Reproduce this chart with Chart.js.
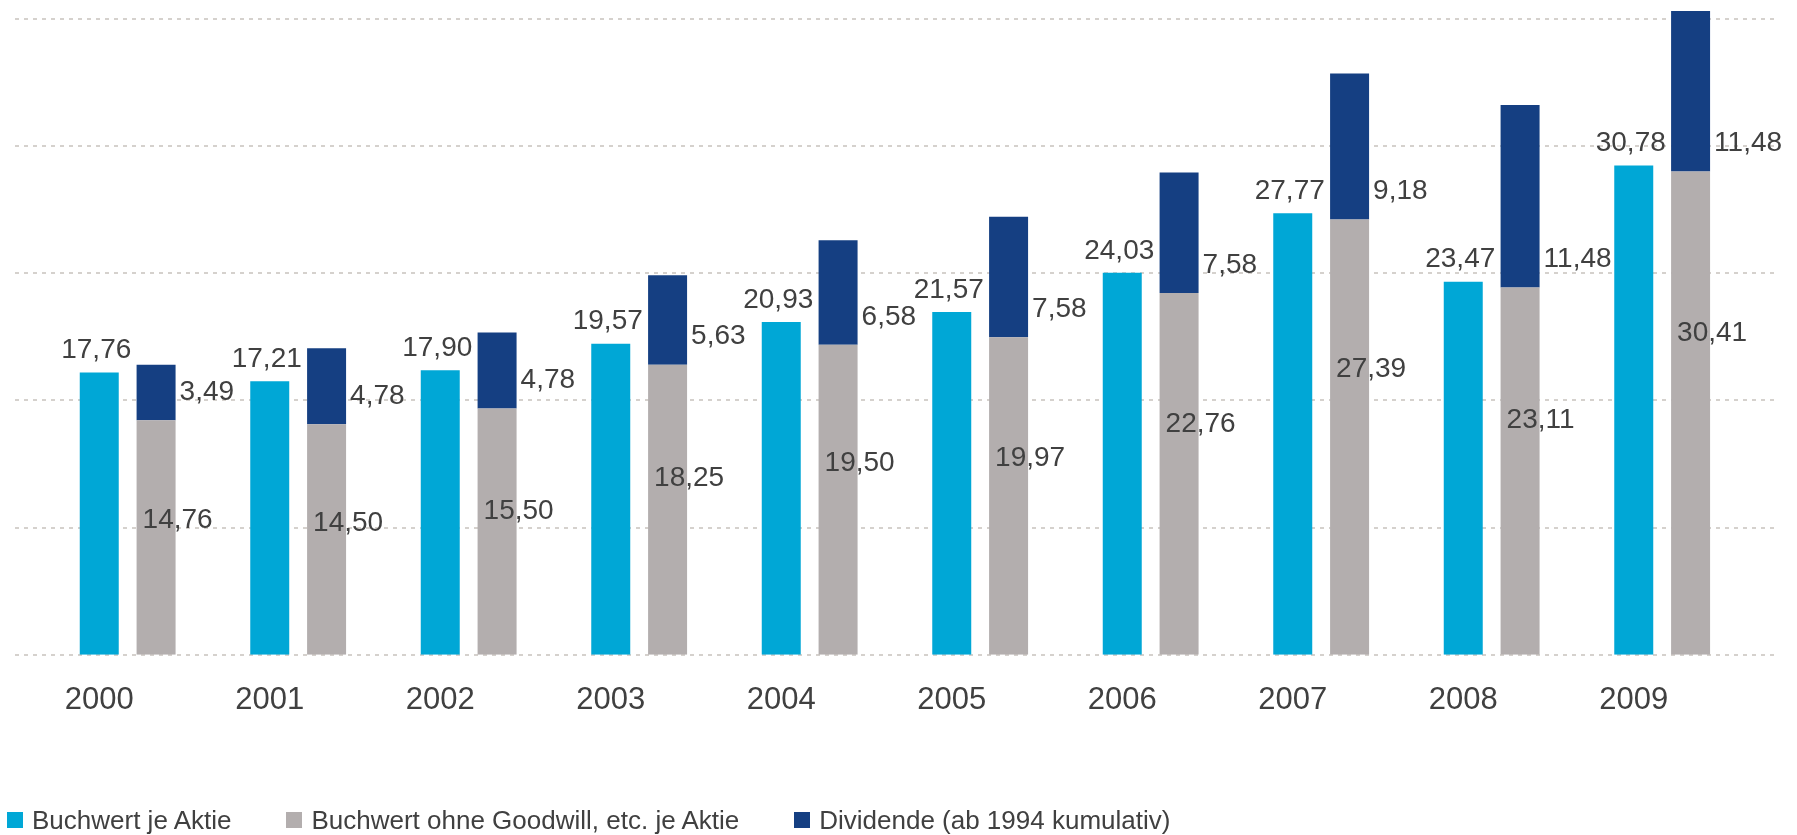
<!DOCTYPE html>
<html lang="de">
<head>
<meta charset="utf-8">
<title>Buchwert je Aktie 2000–2009</title>
<script src="https://cdn.jsdelivr.net/npm/chart.js@4.4.1/dist/chart.umd.min.js"></script>
<style>
  body { margin: 0; background: #fff; }
  #wrap { position: relative; width: 1797px; height: 835px; }
  #legende {
    position: absolute; left: 7px; top: 805px; height: 30px;
    display: flex; align-items: center;
    font-family: "Liberation Sans", Arial, sans-serif; font-size: 26px; color: #404040;
  }
  #legende .item { display: flex; align-items: center; margin-right: 55px; line-height: 30px; }
  #legende .box { width: 16px; height: 16px; margin-right: 9px; }
</style>
</head>
<body>
<div id="wrap">
  <canvas id="cvs_buchwert" width="1797" height="835"></canvas>
  <div id="legende"></div>
</div>
<script>
const canvasBuchwert = document.getElementById("cvs_buchwert");

const jahre = ["2000", "2001", "2002", "2003", "2004", "2005", "2006", "2007", "2008", "2009"];
const buchwert = [17.76, 17.21, 17.9, 19.57, 20.93, 21.57, 24.03, 27.77, 23.47, 30.78];
const ohneGoodwill = [14.76, 14.5, 15.5, 18.25, 19.5, 19.97, 22.76, 27.39, 23.11, 30.41];
const dividende = [3.49, 4.78, 4.78, 5.63, 6.58, 7.58, 7.58, 9.18, 11.48, 11.48];
const gitterwerte = [0, 8, 16, 24, 32, 40];

const schrift = '"Liberation Sans", Arial, sans-serif';
const textFarbe = "#404040";

function formatZahl(v) {
  return v.toFixed(2).replace(".", ",");
}

// dotted horizontal lines, running a bit past the last category
const gitterPlugin = {
  id: "gitter",
  beforeDatasetsDraw(chart) {
    const ctx = chart.ctx;
    const y = chart.scales.y;
    ctx.save();
    ctx.strokeStyle = "#d5d1cd";
    ctx.lineWidth = 2;
    ctx.setLineDash([4, 5]);
    gitterwerte.forEach((wert) => {
      const py = Math.round(y.getPixelForValue(wert));
      ctx.beginPath();
      ctx.moveTo(15, py);
      ctx.lineTo(chart.width - 20, py);
      ctx.stroke();
    });
    ctx.restore();
  },
};

// value labels: above the blue bars, inside the grey ones, right of the dividend part
const wertePlugin = {
  id: "werte",
  afterDatasetsDraw(chart) {
    const ctx = chart.ctx;
    const y = chart.scales.y;
    ctx.save();
    ctx.font = "28px " + schrift;
    ctx.fillStyle = textFarbe;
    ctx.textBaseline = "middle";
    chart.data.datasets.forEach((ds, i) => {
      if (!ds.rotulo) return;
      const meta = chart.getDatasetMeta(i);
      meta.data.forEach((bar, j) => {
        const v = ds.data[j];
        const texto = formatZahl(v);
        if (ds.rotulo === "oben") {
          ctx.textAlign = "center";
          ctx.fillText(texto, bar.x - 3, bar.y - 22);
        } else if (ds.rotulo === "innen") {
          // a bit above the middle, higher up on the taller bars
          ctx.textAlign = "left";
          ctx.fillText(texto, bar.x - bar.width / 2 + 6, y.getPixelForValue(v * 0.75 - 2.6));
        } else {
          ctx.textAlign = "left";
          ctx.fillText(texto, bar.x + bar.width / 2 + 4, bar.base - 28);
        }
      });
    });
    ctx.restore();
  },
};

const grafico = new Chart(canvasBuchwert, {
  type: "bar",
  data: {
    labels: jahre,
    datasets: [
      {
        // empty slot so the blue bar sits on the category centre
        label: "",
        data: jahre.map(() => null),
        stack: "leer",
        backgroundColor: "rgba(0,0,0,0)",
      },
      {
        label: "Buchwert je Aktie",
        data: buchwert,
        stack: "buchwert",
        backgroundColor: "#00a7d6",
        rotulo: "oben",
      },
      {
        label: "Buchwert ohne Goodwill, etc. je Aktie",
        data: ohneGoodwill,
        stack: "ohne",
        backgroundColor: "#b3aeae",
        rotulo: "innen",
      },
      {
        label: "Dividende (ab 1994 kumulativ)",
        data: dividende,
        stack: "ohne",
        backgroundColor: "#153f82",
        rotulo: "rechts",
        clip: 0,
      },
    ],
  },
  options: {
    responsive: false,
    animation: false,
    categoryPercentage: 1,
    barPercentage: 0.686,
    layout: { padding: { left: 14, right: 78, top: 11, bottom: 89 } },
    plugins: {
      legend: { display: false },
      title: { display: false },
      tooltip: { enabled: false },
    },
    scales: {
      x: {
        grid: { display: false, drawTicks: false },
        border: { display: false },
        ticks: {
          padding: 27,
          color: textFarbe,
          font: { size: 31, family: schrift },
          maxRotation: 0,
          autoSkip: false,
        },
      },
      y: {
        display: false,
        stacked: true,
        min: 0,
        max: 40.5,
      },
    },
  },
  plugins: [gitterPlugin, wertePlugin],
});

// legend below the chart, built from the datasets
const legende = document.getElementById("legende");
grafico.data.datasets.forEach((ds) => {
  if (!ds.label) return;
  legende.innerHTML += `
    <div class="item">
      <div class="box" style="background:${ds.backgroundColor}"></div>
      <span>${ds.label}</span>
    </div>`;
});
</script>
</body>
</html>
